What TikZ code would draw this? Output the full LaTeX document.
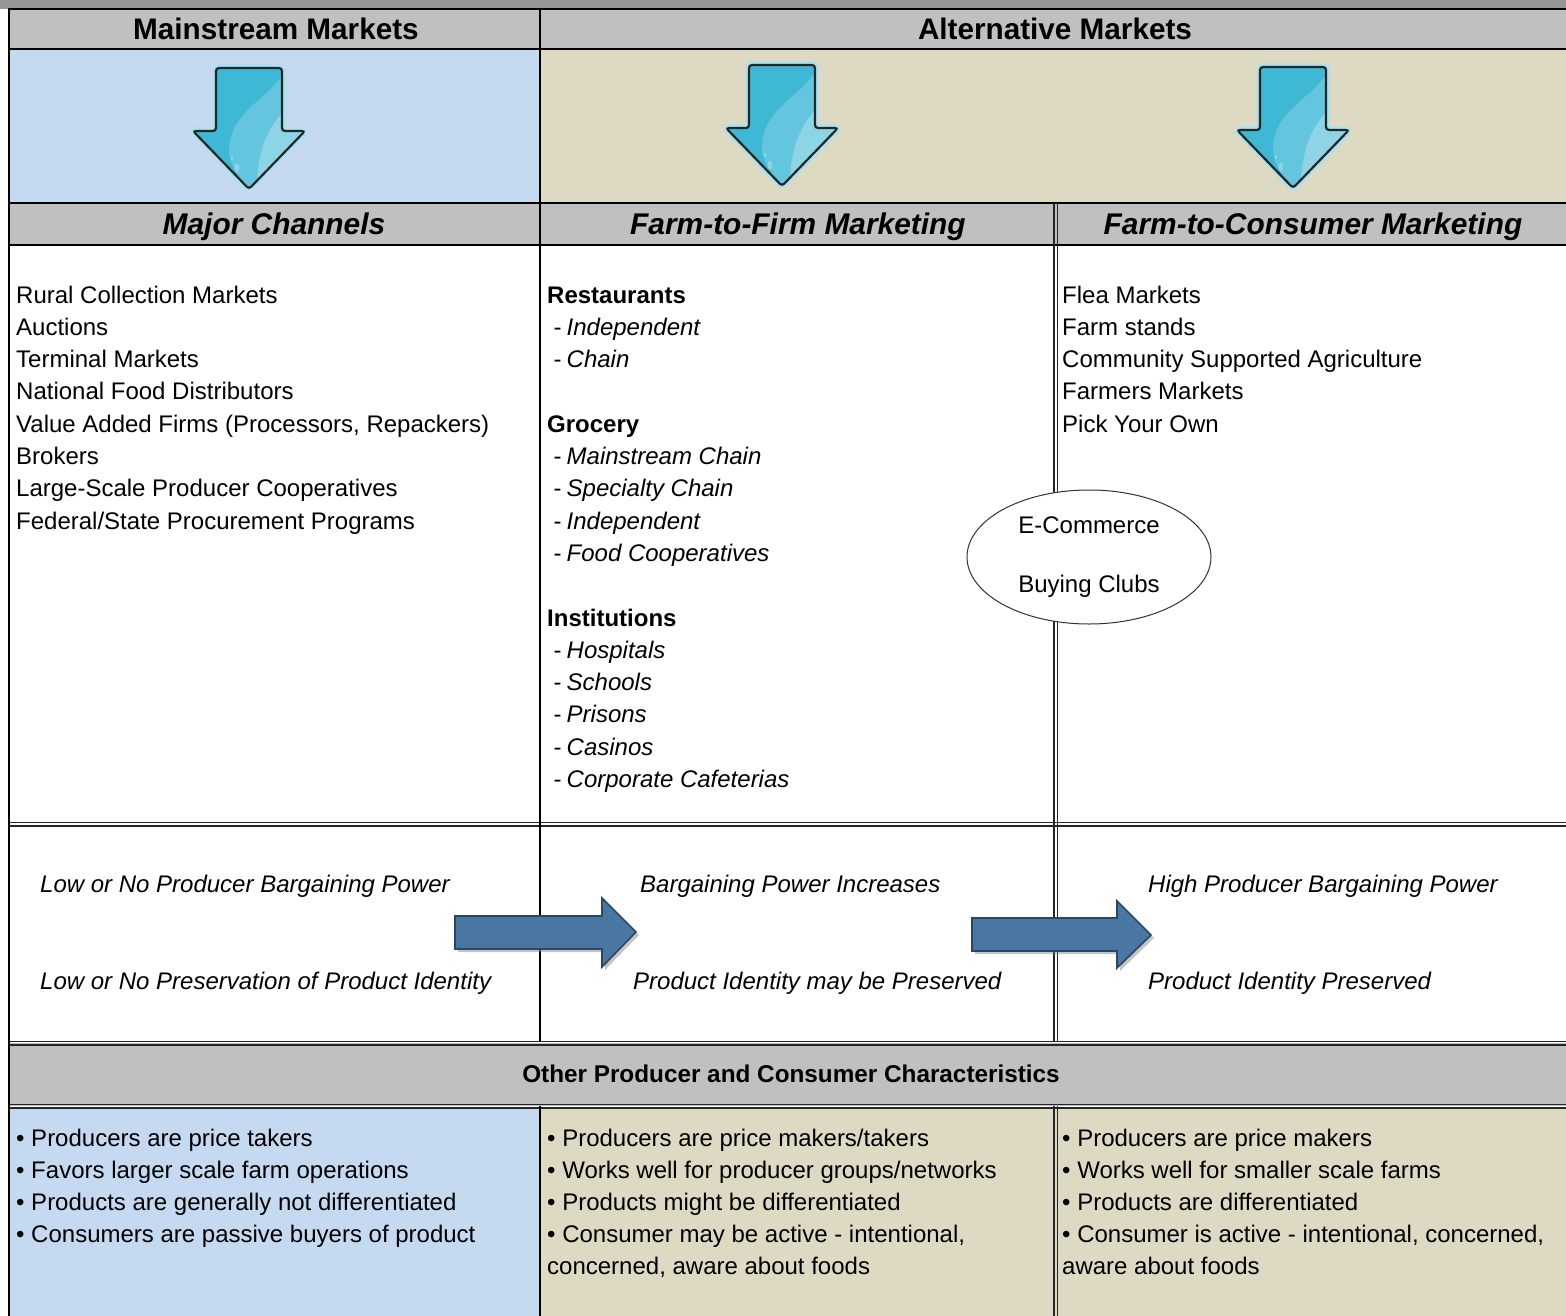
\documentclass[tikz,border=0pt]{standalone}
\usepackage{fontspec}
\setmainfont{Liberation Sans}
\usetikzlibrary{shapes.geometric,shadows}
\definecolor{topgray}{HTML}{969696}
\definecolor{hdrgray}{HTML}{C0C0C0}
\definecolor{mblue}{HTML}{C5D9F1}
\definecolor{mtan}{HTML}{DDD9C3}
\definecolor{arrmain}{HTML}{3FB8D5}
\definecolor{arrmid}{HTML}{63C5DE}
\definecolor{arrlight}{HTML}{8DD5E6}
\definecolor{arrglow}{HTML}{A8E2EF}
\definecolor{barr}{HTML}{4A76A2}
\definecolor{barrline}{HTML}{2B4763}
\newcommand\itm[1]{\hspace{6.5pt}-\hspace{5pt}\textit{#1}}
\newcommand\dnpath{(-33,0) -- (33,0) -- (33,63) -- (56,63) -- (0,121) -- (-56,63) -- (-33,63) -- cycle}
\newcommand\DnArr[2]{%
  \begin{scope}[shift={(#1,#2)}]
    \draw[arrglow, line width=7, line join=round, rounded corners=3] \dnpath;
    \fill[arrmain, rounded corners=3] \dnpath;
    \begin{scope}
      \clip[rounded corners=3] \dnpath;
      \fill[arrmid] (33,8) .. controls (15,33) and (-18,45) .. (-20,80) .. controls (-21,95) and (-10,110) .. (0,121) -- (56,63) -- (33,63) -- cycle;
      \fill[arrlight] (33,45) .. controls (20,60) and (10,78) .. (8,113) -- (56,63) -- cycle;
      \fill[arrlight] (-12,100) ellipse [x radius=2.5, y radius=4.5];
      \fill[arrlight] (-17,90) ellipse [x radius=1.2, y radius=2];
    \end{scope}
    \draw[black!85, line width=2.2, line join=miter, rounded corners=3] \dnpath;
  \end{scope}}
\begin{document}
\begin{tikzpicture}[x=1pt,y=-1pt,
  body/.style={font=\fontsize{24}{30}\selectfont, inner sep=0pt, text=black},
  ital/.style={font=\itshape\fontsize{24}{30}\selectfont, inner sep=0pt, text=black},
  hdr/.style={font=\bfseries\fontsize{29.7}{34}\selectfont, inner sep=0pt, anchor=base, text=black},
  hdri/.style={font=\bfseries\itshape\fontsize{29.9}{34}\selectfont, inner sep=0pt, anchor=base, text=black},
  hdrs/.style={font=\bfseries\fontsize{24.3}{30}\selectfont, inner sep=0pt, anchor=base, text=black},
  grid/.style={line width=2, black},
  thin/.style={line width=1.1, black!85},
  blockarrow/.style={fill=barr, draw=barrline, line width=1.6, line join=miter,
    drop shadow={opacity=0.45, shadow xshift=3pt, shadow yshift=-3pt}},
  ecom/.style={ellipse, draw=black!80, line width=1, fill=white, minimum width=244, minimum height=134,
    inner sep=0pt, align=center, font=\fontsize{24}{30}\selectfont}]
\useasboundingbox (0,0) rectangle (1566,1316);
\fill[white] (0,0) rectangle (1566,1316);
% backgrounds
\fill[topgray] (0,0) rectangle (1566,9);
\fill[hdrgray] (9,9) rectangle (1566,49);
\fill[mblue] (9,49) rectangle (540,203);
\fill[mtan] (540,49) rectangle (1566,203);
\fill[hdrgray] (9,203) rectangle (1566,245);
\fill[hdrgray] (9,1043) rectangle (1566,1106);
\fill[mblue] (9,1107) rectangle (540,1316);
\fill[mtan] (540,1107) rectangle (1566,1316);
% horizontal rules
\draw[grid] (8,9) -- (1566,9);
\draw[grid] (8,49) -- (1566,49);
\draw[grid] (8,203) -- (1566,203);
\draw[grid] (8,245) -- (1566,245);
\draw[thin] (9,822.5) -- (1566,822.5);
\draw[thin] (9,826) -- (1566,826);
\draw[thin] (9,1041.5) -- (1566,1041.5);
\draw[thin] (9,1045) -- (1566,1045);
\draw[thin] (9,1104.5) -- (1566,1104.5);
\draw[thin] (9,1108) -- (1566,1108);
% vertical rules
\draw[line width=2.5] (9,8) -- (9,1316);
\draw[grid] (540,9) -- (540,1042);
\draw[grid] (540,1106) -- (540,1316);
\draw[thin] (1054,203) -- (1054,1042);
\draw[thin] (1057.5,203) -- (1057.5,1042);
\draw[thin] (1054,1106) -- (1054,1316);
\draw[thin] (1057.5,1106) -- (1057.5,1316);
% header texts
\node[hdr] (hmain) at (276,40) {Mainstream Markets};
\node[hdr] (halt) at (1055,40) {Alternative Markets};
\node[hdri] (hmaj) at (274,234) {Major Channels};
\node[hdri] (hfirm) at (798,234) {Farm-to-Firm Marketing};
\node[hdri] (hcons) at (1313,234) {Farm-to-Consumer Marketing};
\node[hdrs] (hother) at (791,1082) {Other Producer and Consumer Characteristics};
% down arrows
\DnArr{249}{68}
\DnArr{782}{65}
\DnArr{1293}{67}
% left column
\foreach \t [count=\i from 0] in {{Rural Collection Markets},{Auctions},{Terminal Markets},{National Food Distributors},{Value Added Firms (Processors, Repackers)},{Brokers},{Large-Scale Producer Cooperatives},{Federal/State Procurement Programs}}
  \node[body, anchor=base west] (ml\i) at (16,{303+32.3*\i}) {\t};
% middle column
\foreach \k/\t in {0/{\textbf{Restaurants}},1/{\itm{Independent}},2/{\itm{Chain}},4/{\textbf{Grocery}},5/{\itm{Mainstream Chain}},6/{\itm{Specialty Chain}},7/{\itm{Independent}},8/{\itm{Food Cooperatives}},10/{\textbf{Institutions}},11/{\itm{Hospitals}},12/{\itm{Schools}},13/{\itm{Prisons}},14/{\itm{Casinos}},15/{\itm{Corporate Cafeterias}}}
  \node[body, anchor=base west] (mf\k) at (547,{303+32.3*\k}) {\t};
% right column
\foreach \t [count=\i from 0] in {{Flea Markets},{Farm stands},{Community Supported Agriculture},{Farmers Markets},{Pick Your Own}}
  \node[body, anchor=base west] (mr\i) at (1062,{303+32.3*\i}) {\t};
% ellipse
\node[ecom] (ecomm) at (1089,557) {E-Commerce\\[29pt]Buying Clubs};
% bargaining power row
\node[ital, anchor=base west] (b1) at (40,892) {Low or No Producer Bargaining Power};
\node[ital, anchor=base west] (b2) at (40,989) {Low or No Preservation of Product Identity};
\node[ital, anchor=base west] (b3) at (640,892) {Bargaining Power Increases};
\node[ital, anchor=base west] (b4) at (633,989) {Product Identity may be Preserved};
\node[ital, anchor=base west] (b5) at (1148,892) {High Producer Bargaining Power};
\node[ital, anchor=base west] (b6) at (1148,989) {Product Identity Preserved};
% block arrows
\path[blockarrow] (455,916) -- (602,916) -- (602,898) -- (636,932) -- (602,967) -- (602,949) -- (455,949) -- cycle;
\path[blockarrow] (972,918) -- (1117,918) -- (1117,901) -- (1151,935) -- (1117,968) -- (1117,951) -- (972,951) -- cycle;
% characteristics
\foreach \t [count=\i from 0] in {{Producers are price takers},{Favors larger scale farm operations},{Products are generally not differentiated},{Consumers are passive buyers of product}}
  \node[body, anchor=base west] (cl\i) at (16,{1146+32*\i}) {\textbullet\ \t};
\foreach \t [count=\i from 0] in {{Producers are price makers/takers},{Works well for producer groups/networks},{Products might be differentiated},{Consumer may be active - intentional,}}
  \node[body, anchor=base west] (cm\i) at (547,{1146+32*\i}) {\textbullet\ \t};
\node[body, anchor=base west] (cm4) at (547,1274) {concerned, aware about foods};
\foreach \t [count=\i from 0] in {{Producers are price makers},{Works well for smaller scale farms},{Products are differentiated},{Consumer is active - intentional, concerned,}}
  \node[body, anchor=base west] (cr\i) at (1062,{1146+32*\i}) {\textbullet\ \t};
\node[body, anchor=base west] (cr4) at (1062,1274) {aware about foods};
\end{tikzpicture}
\end{document}
